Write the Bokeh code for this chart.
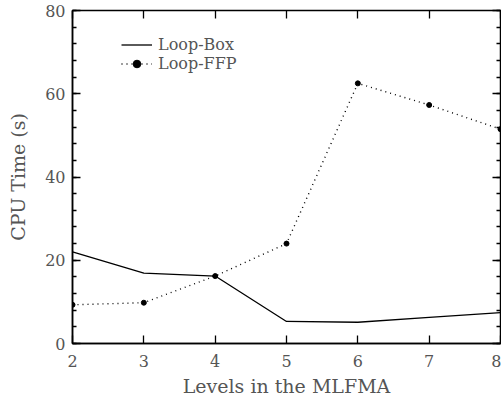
from bokeh.plotting import figure
from bokeh.models import LinearAxis, SingleIntervalTicker, FixedTicker, Legend, LegendItem
from bokeh.embed import file_html
from bokeh.resources import INLINE

levels = [2, 3, 4, 5, 6, 7, 8]
loop_box = [22.0, 16.9, 16.2, 5.3, 5.1, 6.3, 7.4]
loop_ffp = [9.3, 9.8, 16.2, 24.0, 62.5, 57.3, 51.5]
x_ticks = [2, 3, 4, 5, 6, 7, 8]
y_ticks = [0, 20, 40, 60, 80]

FONT = "DejaVu Serif"
TXT = "#555555"

p = figure(width=501, height=401, x_range=(2, 8), y_range=(0, 80),
           output_backend="svg", toolbar_location=None, tools="",
           min_border_left=72, min_border_right=1, min_border_top=10, min_border_bottom=58,
           x_axis_label="Levels in the MLFMA", y_axis_label="CPU Time (s)")
p.grid.visible = False
p.outline_line_color = "black"
p.outline_line_width = 1.5

xt = FixedTicker(ticks=x_ticks)
yt = SingleIntervalTicker(interval=20, num_minor_ticks=5)

xa = p.xaxis[0]
xa.ticker = xt
ya = p.yaxis[0]
ya.ticker = yt

for ax in (xa, ya):
    ax.axis_line_color = "black"
    ax.axis_line_width = 1.5
    ax.major_tick_in = 8
    ax.major_tick_out = 0
    ax.minor_tick_in = 4
    ax.minor_tick_out = 0
    ax.major_tick_line_width = 1.3
    ax.minor_tick_line_width = 1.3
    ax.major_label_text_font = FONT
    ax.major_label_text_font_size = "16px"
    ax.major_label_text_color = TXT
    ax.axis_label_text_font = FONT
    ax.axis_label_text_font_size = "19px"
    ax.axis_label_text_font_style = "normal"
    ax.axis_label_text_color = TXT
xa.minor_tick_line_color = None
xa.major_label_standoff = 11
xa.axis_label_standoff = 5
ya.major_label_standoff = 7
ya.axis_label_standoff = 13

# mirrored axes (ticks only)
top = LinearAxis(ticker=xt, major_label_overrides={t: "" for t in x_ticks})
right = LinearAxis(ticker=yt, major_label_overrides={t: "" for t in y_ticks})
for ax in (top, right):
    ax.axis_line_color = None
    ax.major_tick_in = 8
    ax.major_tick_out = 0
    ax.minor_tick_in = 4
    ax.minor_tick_out = 0
    ax.major_tick_line_width = 1.3
    ax.minor_tick_line_width = 1.3
    ax.major_label_text_font_size = "0px"
    ax.major_label_standoff = 0
top.minor_tick_line_color = None
p.add_layout(top, "above")
p.add_layout(right, "right")

r_box = p.line(levels, loop_box, line_color="black", line_width=1.3)
r_ffp = p.line(levels, loop_ffp, line_color="black", line_width=1.4, line_dash="1 4")
r_ffp_pts = p.scatter(levels, loop_ffp, size=5, color="black")

legend = Legend(items=[LegendItem(label="Loop-Box", renderers=[r_box]),
                       LegendItem(label="Loop-FFP", renderers=[r_ffp, r_ffp_pts])],
                location=(49, 270), border_line_color=None, background_fill_alpha=0,
                padding=0, margin=0, spacing=0, glyph_width=31, glyph_height=19,
                label_height=19, label_standoff=6,
                label_text_font=FONT, label_text_font_size="16px", label_text_color=TXT)
p.add_layout(legend, "center")

open("out.html", "w").write(file_html(p, INLINE))
